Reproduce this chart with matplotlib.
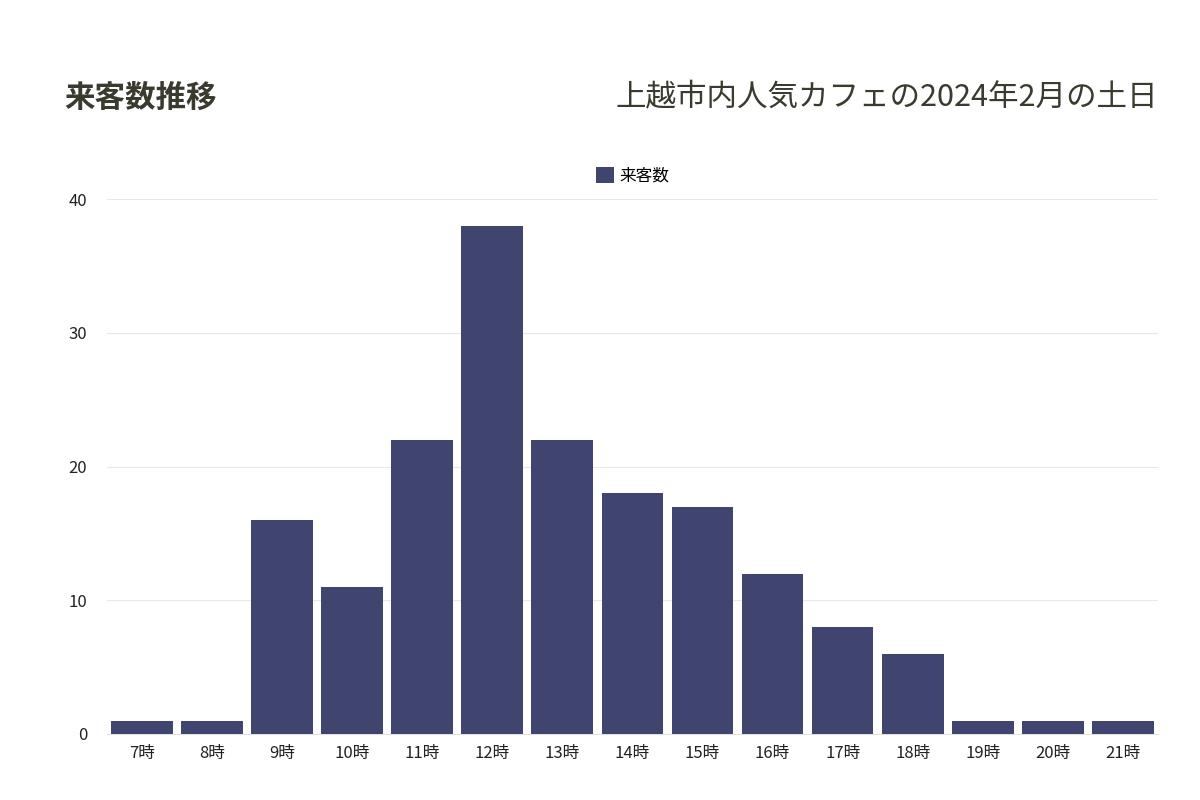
import matplotlib
matplotlib.use("Agg")
import matplotlib.pyplot as plt

plt.rcParams['font.family'] = ['Noto Sans CJK JP', 'DejaVu Sans']

hours = ['7時', '8時', '9時', '10時', '11時', '12時', '13時', '14時',
         '15時', '16時', '17時', '18時', '19時', '20時', '21時']
visitors = [1, 1, 16, 11, 22, 38, 22, 18, 17, 12, 8, 6, 1, 1, 1]

fig = plt.figure(figsize=(12, 8), dpi=100)
ax = fig.add_axes([0.089, 0.0825, 0.876, 0.6685])

ax.bar(range(len(hours)), visitors, width=0.88, color='#3f456f', label='来客数', zorder=3)
ax.set_xlim(-0.5, len(hours) - 0.5)
ax.set_ylim(0, 40)
ax.set_yticks([0, 10, 20, 30, 40])
ax.set_xticks(range(len(hours)))
ax.set_xticklabels(hours)
ax.grid(axis='y', color='#e8e8e8', linewidth=0.8, zorder=0)
for s in ['top', 'right', 'left']:
    ax.spines[s].set_visible(False)
ax.spines['bottom'].set_color('#e0e0e0')
ax.tick_params(length=0, labelsize=12, colors='#222222', pad=8)
ax.tick_params(axis='y', pad=14)

ax.legend(loc='lower center', bbox_to_anchor=(0.5, 1.0), frameon=False,
          fontsize=12, handlelength=1.1, handleheight=1.1, handletextpad=0.3)

fig.text(0.054, 0.878, '来客数推移', fontsize=22, fontweight='bold', color='#3a3a2e', va='center')
fig.text(0.965, 0.878, '上越市内人気カフェの2024年2月の土日', fontsize=22,
         color='#3a3a2e', va='center', ha='right')

fig.savefig('out.png', dpi=100, facecolor='white')
